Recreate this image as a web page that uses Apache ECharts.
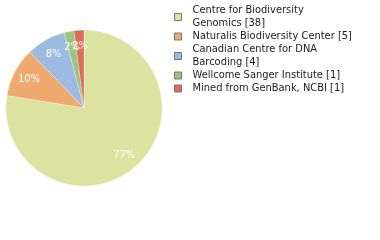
<!DOCTYPE html>
<html>
<head>
<meta charset="utf-8">
<script src="https://cdn.jsdelivr.net/npm/echarts@6/dist/echarts.min.js"></script>
<style>
  html, body { margin: 0; padding: 0; background: #fff; }
  #pie { width: 380px; height: 240px; }
</style>
</head>
<body>
<div id="pie"></div>
<script>
var institutions = ['Centre for Biodiversity Genomics', 'Naturalis Biodiversity Center', 'Canadian Centre for DNA Barcoding', 'Wellcome Sanger Institute', 'Mined from GenBank, NCBI'];
var counts = [38, 5, 4, 1, 1];
var legendLabels = ['Centre for Biodiversity\nGenomics [38]', 'Naturalis Biodiversity Center [5]', 'Canadian Centre for DNA\nBarcoding [4]', 'Wellcome Sanger Institute [1]', 'Mined from GenBank, NCBI [1]'];
var colors = ['#dce29f', '#efaa6f', '#9dbbe0', '#9cc47b', '#dc6e58'];

var myChart = echarts.init(document.getElementById('pie'));

var pieData = institutions.map(function (name, i) {
  return { name: name, value: counts[i] };
});

var font = 'DejaVu Sans Condensed, DejaVu Sans, sans-serif';

option = {
  animation: false,
  color: colors,
  legend: {
    orient: 'vertical',
    left: 174,
    top: 4,
    padding: 0,
    itemWidth: 7,
    itemHeight: 7,
    itemGap: 0,
    icon: 'rect',
    itemStyle: {
      borderColor: '#777',
      borderWidth: 1
    },
    textStyle: {
      fontFamily: font,
      fontSize: 11,
      lineHeight: 13,
      color: '#1a1a1a',
      padding: [0, 0, 0, 6]
    },
    formatter: function (name) {
      return legendLabels[institutions.indexOf(name)];
    },
    data: institutions
  },
  series: [
    {
      type: 'pie',
      center: [84, 108],
      radius: 78,
      startAngle: 90,
      clockwise: true,
      silent: true,
      label: { show: false },
      labelLine: { show: false },
      itemStyle: { borderColor: '#fff', borderWidth: 0.3 },
      data: pieData
    },
    {
      // transparent ring, only carries the percent labels
      type: 'pie',
      center: [84, 108],
      radius: [40, 78],
      startAngle: 90,
      clockwise: true,
      silent: true,
      legendHoverLink: false,
      avoidLabelOverlap: false,
      labelLayout: { hideOverlap: false },
      itemStyle: { color: 'rgba(0,0,0,0)' },
      label: {
        show: true,
        position: 'inside',
        color: '#fff',
        fontFamily: font,
        fontSize: 11,
        formatter: function (p) {
          return Math.floor(p.percent) + '%';
        }
      },
      labelLine: { show: false },
      data: pieData
    }
  ]
};

myChart.setOption(option, true);
</script>
</body>
</html>
